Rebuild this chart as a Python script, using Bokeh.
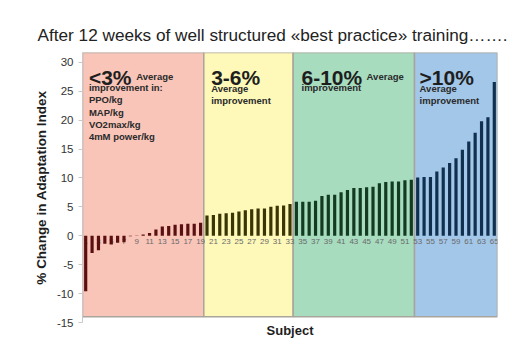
from bokeh.plotting import figure
from bokeh.models import Range1d, FixedTicker, ColumnDataSource
from bokeh.embed import file_html
from bokeh.resources import INLINE
from bokeh.core.properties import value

# ---- data ----
subjects = list(range(1, 66))
change = [
    -9.6, -3.0, -2.5, -1.4, -1.5, -1.2, -1.1, -0.1, 0.05, 0.2,
    0.5, 1.1, 1.6, 1.7, 1.9, 2.0, 2.1, 2.1, 2.25,
    3.5, 3.6, 3.8, 3.9, 4.0, 4.2, 4.4, 4.6, 4.7, 4.7, 5.0, 5.2, 5.25, 5.5,
    5.9, 5.9, 5.9, 6.05, 6.9, 7.1, 7.1, 7.55, 7.9, 8.25, 8.25, 8.4, 8.5,
    9.1, 9.3, 9.4, 9.4, 9.6, 9.7,
    10.1, 10.15, 10.15, 11.1, 11.8, 12.6, 13.4, 14.9, 16.3, 17.8, 19.8, 20.5, 26.6,
]
group_names = ["<3%", "3-6%", "6-10%", ">10%"]
group_start = [1, 20, 34, 53]
group_end = [19, 33, 52, 65]
group_fill = ["#f9c5b9", "#fef9b9", "#a7dcbf", "#a3c7e8"]
group_bar = ["#5a1010", "#3a3504", "#133b22", "#11304f"]
tick_labels = [str(i) for i in range(1, 66, 2)]
tick_pos = list(range(1, 66, 2))
y_ticks = [-15, -10, -5, 0, 5, 10, 15, 20, 25, 30]
y_tick_labels = [str(t) for t in y_ticks]

title = "After 12 weeks of well structured «best practice» training……."

# ---- figure ----
p = figure(width=525, height=351, output_backend="svg", toolbar_location=None,
           x_range=Range1d(0.5, 65.5), y_range=Range1d(-15, 31.7),
           min_border_left=82, min_border_right=28, min_border_top=52,
           min_border_bottom=29, title=title)
p.background_fill_color = "white"
p.border_fill_color = "white"
p.outline_line_color = None
p.grid.grid_line_color = None

p.title.text_font = "Liberation Sans"
p.title.text_font_size = "17.2px"
p.title.text_font_style = "normal"
p.title.text_color = "#222222"
p.title.align = "left"
p.title.offset = -45
p.title.standoff = 16

# regions
p.quad(left=[s - 0.5 for s in group_start], right=[e + 0.5 for e in group_end],
       bottom=-14, top=31.7, fill_color=group_fill, line_color="#aaa59c",
       line_width=1.5)

# category labels under zero line
p.text(x=tick_pos, y=[-0.5] * len(tick_pos), text=tick_labels,
       text_font=value("Liberation Sans"), text_font_size="8px",
       text_color="#6a6a6a", text_align="center", text_baseline="top")

# bars
bar_col = []
for s in subjects:
    for gs, ge, c in zip(group_start, group_end, group_bar):
        if gs <= s <= ge:
            bar_col.append(c)
src = ColumnDataSource(dict(x=subjects, top=change, color=bar_col))
p.vbar(x="x", top="top", bottom=0, width=0.5, fill_color="color",
       line_color=None, source=src)

# region annotations
big_x = [1.5, 20.65, 34.8, 53.3]
p.text(x=big_x, y=[27.4] * 4, text=group_names, text_font=value("Liberation Sans"),
       text_font_size="21px", text_font_style="bold", text_color="#1e1e1e",
       text_baseline="alphabetic")

small_font = dict(text_font=value("Liberation Sans"), text_font_size="9.5px",
                  text_font_style="bold", text_color="#2a2a2a",
                  text_baseline="alphabetic")
red_lines = ["improvement in:", "PPO/kg", "MAP/kg", "VO2max/kg", "4mM power/kg"]
p.text(x=[8.9], y=[27.6], text=["Average"], **small_font)
p.text(x=[1.5] * 5, y=[25.6, 23.5, 21.4, 19.25, 17.2], text=red_lines, **small_font)
p.text(x=[20.65, 20.65], y=[25.5, 23.4], text=["Average", "improvement"], **small_font)
p.text(x=[45.0, 34.8], y=[27.6, 25.6], text=["Average", "improvement"], **small_font)
p.text(x=[53.3, 53.3], y=[25.5, 23.4], text=["Average", "improvement"], **small_font)

# axes
p.yaxis.ticker = FixedTicker(ticks=y_ticks)
p.yaxis.major_label_overrides = dict(zip(y_ticks, y_tick_labels))
p.yaxis.axis_label = "% Change in Adaptation Index"
p.yaxis.axis_label_text_font = "Liberation Sans"
p.yaxis.axis_label_text_font_size = "13.5px"
p.yaxis.axis_label_text_font_style = "bold"
p.yaxis.axis_label_text_color = "#1e1e1e"
p.yaxis.major_label_text_font = "Liberation Sans"
p.yaxis.major_label_text_font_size = "11.5px"
p.yaxis.major_label_text_color = "#333333"
p.yaxis.axis_line_color = "#c8c8c8"
p.yaxis.major_tick_line_color = "#c8c8c8"
p.yaxis.major_tick_out = 4
p.yaxis.major_tick_in = 0
p.yaxis.minor_tick_line_color = None

p.xaxis.ticker = FixedTicker(ticks=[])
p.xaxis.axis_line_color = None
p.xaxis.major_tick_line_color = None
p.xaxis.minor_tick_line_color = None
p.xaxis.major_label_text_font_size = "0px"
p.xaxis.axis_label = "Subject"
p.xaxis.axis_label_text_font = "Liberation Sans"
p.xaxis.axis_label_text_font_size = "13px"
p.xaxis.axis_label_text_font_style = "bold"
p.xaxis.axis_label_text_color = "#1e1e1e"
p.xaxis.axis_label_standoff = 0

open("out.html", "w").write(file_html(p, INLINE))
